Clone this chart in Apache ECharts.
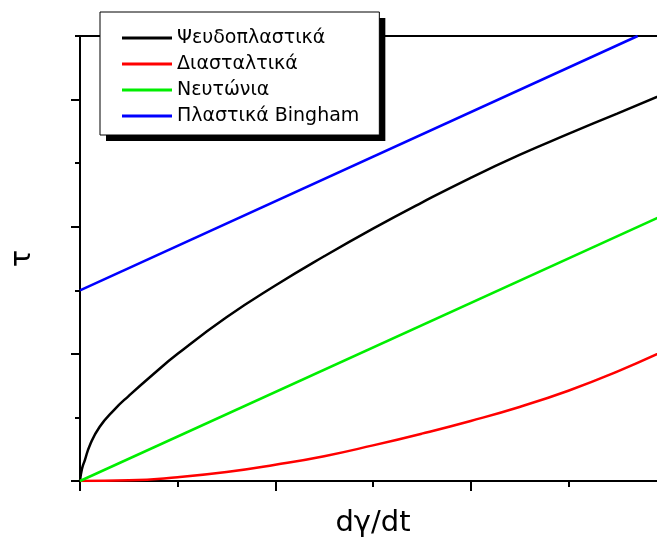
<!DOCTYPE html>
<html>
<head>
<meta charset="utf-8">
<script src="https://cdn.jsdelivr.net/npm/echarts@6/dist/echarts.min.js"></script>
<style>html,body{margin:0;padding:0;background:#fff}#c{width:657px;height:538px}</style>
</head>
<body>
<div id="c"></div>
<script>
// Series names
const seriesNames = ['Ψευδοπλαστικά', 'Διασταλτικά', 'Νευτώνια', 'Πλαστικά Bingham'];
// Pseudoplastic (black) [x, y]
const pseudoplastic = [[0,0],[0.02,0.19],[0.05,0.33],[0.1,0.56],[0.2,0.85],[0.35,1.12],[0.5,1.34],[0.75,1.68],[1.0,2.0],[1.5,2.575],[2.0,3.075],[2.5,3.535],[3.0,3.97],[3.5,4.38],[4.0,4.77],[4.5,5.13],[5.0,5.46],[5.5,5.78],[6.0,6.1]];
// Dilatant (red)
const dilatant = [[0,0],[0.5,0.01],[1.0,0.06],[1.5,0.14],[2.0,0.255],[2.5,0.39],[3.0,0.56],[3.5,0.745],[4.0,0.945],[4.5,1.165],[5.0,1.42],[5.5,1.72],[6.0,2.06]];
// Newtonian (green)
const newtonian = [[0,0],[6.0,4.2]];
// Bingham plastic (blue)
const bingham = [[0,3.0],[5.71,7.0]];
// Axis extents and tick positions
const xMin = 0, xMax = 6;
const yMin = 0, yMax = 7;
const xMajorTicks = [0,2,4];
const xMinorTicks = [1,3,5];
const yMajorTicks = [0,2,4,6];
const yMinorTicks = [1,3,5,7];
const colors = ['#000000', '#ff0000', '#00ee00', '#0000ff'];

const chart = echarts.init(document.getElementById('c'), null, {renderer: 'canvas'});
const font = 'DejaVu Sans';
const baseAxis = {
  type: 'value', splitLine: {show: false}, axisLabel: {show: false}
};
const legendBase = {
  orient: 'vertical', left: 100, top: 12,
  padding: [16, 20, 9, 22],
  itemWidth: 50, itemHeight: 3, itemGap: 6, icon: 'rect',
  textStyle: {fontFamily: font, fontSize: 19, color: '#000', lineHeight: 20},
  data: seriesNames,
  selectedMode: false
};
chart.setOption({
  animation: false,
  backgroundColor: '#fff',
  grid: {left: 80, right: -9, top: 36, bottom: 57, outerBoundsMode: 'none', containLabel: false},
  legend: [
    Object.assign({}, legendBase, {
      backgroundColor: '#fff', borderWidth: 0,
      shadowColor: '#000', shadowOffsetX: 6, shadowOffsetY: 6, shadowBlur: 0,
      textStyle: Object.assign({}, legendBase.textStyle, {color: 'rgba(0,0,0,0)'}),
      itemStyle: {opacity: 0},
      z: 9
    }),
    Object.assign({}, legendBase, {
      backgroundColor: 'rgba(0,0,0,0)', borderColor: '#000', borderWidth: 1,
      z: 10
    })
  ],
  xAxis: [
    Object.assign({}, baseAxis, {
      min: xMin, max: xMax, interval: 2, position: 'bottom',
      name: 'dγ/dt', nameLocation: 'middle', nameGap: 28,
      nameTextStyle: {fontFamily: font, fontSize: 29, color: '#000'},
      axisLine: {show: true, onZero: false, lineStyle: {color: '#000', width: 2}},
      axisTick: {show: true, length: 10, customValues: xMajorTicks, lineStyle: {color: '#000', width: 2}}
    }),
    Object.assign({}, baseAxis, {
      min: xMin, max: xMax, interval: 1, position: 'bottom',
      axisLine: {show: false},
      axisTick: {show: true, length: 6, customValues: xMinorTicks, lineStyle: {color: '#000', width: 2}}
    }),
    Object.assign({}, baseAxis, {
      min: xMin, max: xMax, interval: 1, position: 'top',
      axisLine: {show: true, onZero: false, lineStyle: {color: '#000', width: 2}},
      axisTick: {show: false}
    })
  ],
  yAxis: [
    Object.assign({}, baseAxis, {
      min: yMin, max: yMax, interval: 2, position: 'left',
      name: 'τ', nameLocation: 'middle', nameGap: 43, nameRotate: 90,
      nameTextStyle: {fontFamily: font, fontSize: 29, color: '#000'},
      axisLine: {show: true, onZero: false, lineStyle: {color: '#000', width: 2}},
      axisTick: {show: true, length: 9, customValues: yMajorTicks, lineStyle: {color: '#000', width: 2}}
    }),
    Object.assign({}, baseAxis, {
      min: yMin, max: yMax, interval: 1, position: 'left', offset: 0,
      axisLine: {show: false},
      axisTick: {show: true, length: 5, customValues: yMinorTicks, lineStyle: {color: '#000', width: 2}}
    })
  ],
  series: [
    {name: seriesNames[0], data: pseudoplastic, color: colors[0]},
    {name: seriesNames[1], data: dilatant, color: colors[1]},
    {name: seriesNames[2], data: newtonian, color: colors[2]},
    {name: seriesNames[3], data: bingham, color: colors[3]}
  ].map(s => Object.assign({
    type: 'line', xAxisIndex: 0, yAxisIndex: 0, showSymbol: false, symbol: 'none',
    smooth: 0.5, clip: true,
    lineStyle: {width: 2.5, color: s.color}, itemStyle: {color: s.color}
  }, s))
});
</script>
</body>
</html>
